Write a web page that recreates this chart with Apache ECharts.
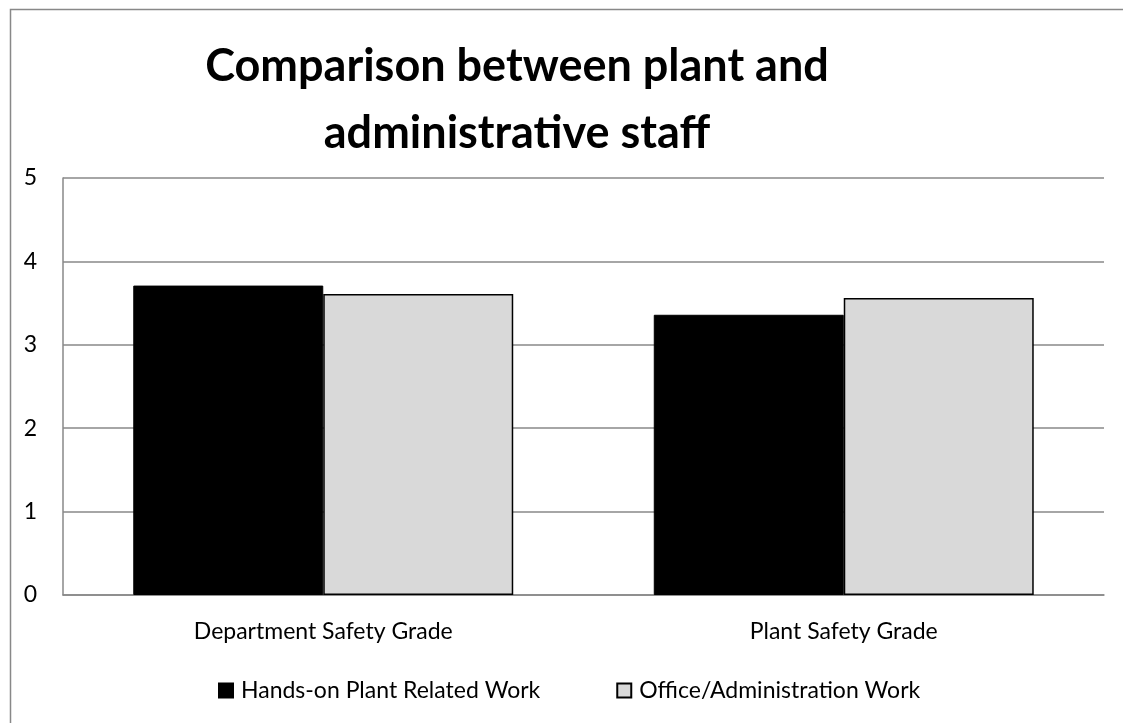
<!DOCTYPE html>
<html>
<head>
<meta charset="utf-8">
<script src="https://cdn.jsdelivr.net/npm/echarts@6/dist/echarts.min.js"></script>
<style>html,body{margin:0;padding:0;background:#fff}#c{width:1123px;height:723px}</style>
</head>
<body>
<div id="c"></div>
<script>
const categories = ['Department Safety Grade', 'Plant Safety Grade'];
const seriesNames = ['Hands-on Plant Related Work', 'Office/Administration Work'];
const handsOn = [3.71, 3.36];
const office = [3.61, 3.56];
const yTicks = [0, 1, 2, 3, 4, 5];

const FONT = 'Lato';
const chart = echarts.init(document.getElementById('c'), null, {renderer: 'canvas'});
chart.setOption({
  backgroundColor: '#fff',
  animation: false,
  title: {
    text: 'Comparison between plant and\nadministrative staff',
    left: 512, top: 28, textAlign: 'center',
    textStyle: {fontFamily: FONT, fontWeight: 'bold', fontSize: 45, color: '#000', lineHeight: 67}
  },
  graphic: [{
    type: 'rect', left: 8, top: 7, silent: true,
    shape: {width: 1300, height: 900},
    style: {fill: 'none', stroke: '#888', lineWidth: 1.5}
  }],
  legend: {
    data: seriesNames, top: 674, left: 213, itemGap: 76,
    itemWidth: 14, itemHeight: 14, icon: 'rect',
    textStyle: {fontFamily: FONT, fontSize: 23, color: '#000', padding: [0, 0, 0, 3]}
  },
  grid: {left: 63, right: 19, top: 178, bottom: 128, containLabel: false},
  xAxis: {
    type: 'category', data: categories,
    axisLine: {lineStyle: {color: '#888', width: 1.5}},
    axisTick: {show: false},
    axisLabel: {fontFamily: FONT, fontSize: 23, color: '#000', margin: 25}
  },
  yAxis: {
    type: 'value', min: 0, max: 5, interval: 1,
    axisLine: {show: true, lineStyle: {color: '#888', width: 1.5}},
    axisTick: {show: false},
    splitLine: {lineStyle: {color: '#888', width: 1.5}},
    axisLabel: {fontFamily: FONT, fontSize: 23, color: '#000', margin: 26,
      formatter: v => yTicks.includes(v) ? String(v) : ''}
  },
  series: [
    {name: seriesNames[0], type: 'bar', data: handsOn, barGap: '0%', barCategoryGap: '27%',
      itemStyle: {color: '#000', borderColor: '#000', borderWidth: 1}},
    {name: seriesNames[1], type: 'bar', data: office,
      itemStyle: {color: '#d9d9d9', borderColor: '#000', borderWidth: 1.5}}
  ]
});
</script>
</body>
</html>
